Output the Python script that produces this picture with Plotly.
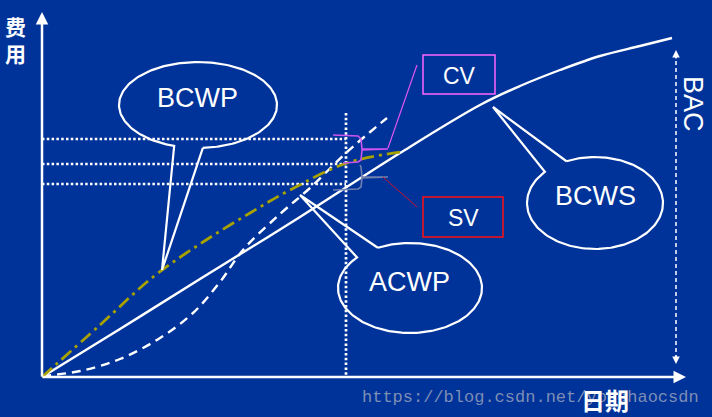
import numpy as np
import plotly.graph_objects as go

# ---------------- data (diagram coordinates, pixel space, y downward) ----------------
bcws_x = [42, 120, 200, 300, 400, 480, 520, 560, 600, 640, 672]
bcws_y = [377, 329, 279, 217, 153, 105, 86, 70, 56, 46, 38]

acwp_x = [42, 80, 120, 160, 193, 220, 243, 280, 310, 347, 387]
acwp_y = [376, 371, 359, 338, 313, 282, 250, 214, 188, 152, 118]

bcwp_x = [42, 100, 153, 203, 250, 290, 347, 400]
bcwp_y = [377, 325, 277, 242, 213, 190, 163, 152]

level_y = [139, 164, 184]          # dotted guide levels
status_x = 346                      # status date
status_top = 113

bac_x = 676
bac_top, bac_bottom = 50, 364

labels = {"BCWP": (197, 98), "ACWP": (409, 282), "BCWS": (595, 196)}
bubbles = {
    "BCWP": dict(c=(198, 105), r=(79, 43), b1=(173, 148), tip=(162, 270), b2=(203, 149)),
    "ACWP": dict(c=(410, 288), r=(72, 45), b1=(358, 258), tip=(300, 195), b2=(378, 248)),
    "BCWS": dict(c=(595, 203), r=(68, 46), b1=(545, 172), tip=(493, 107), b2=(567, 162)),
}

cv_brace_x = [333, 358, 361, 362, 388, 362, 361, 358, 343]
cv_brace_y = [135, 136, 139, 149, 149, 150, 160, 162, 163]
sv_brace_x = [360, 361, 362, 388, 362, 361, 358, 333]
sv_brace_y = [165, 167, 177, 177, 178, 187, 189, 190]

cv_link_x = [388, 417]
cv_link_y = [148, 65]
sv_link_x = [383, 417]
sv_link_y = [177, 207]

cv_box = (423, 55, 495, 94)
sv_box = (423, 197, 503, 237)

BG = "#003399"
W, H = 712, 417

fig = go.Figure()


def line(x, y, color="white", width=2, dash=None, shape="linear"):
    fig.add_trace(go.Scatter(x=x, y=y, mode="lines", hoverinfo="skip",
                             line=dict(color=color, width=width, dash=dash, shape=shape)))


# dotted guides
for ly in level_y:
    line([42, status_x], [ly, ly], width=2.7, dash="2.5px,2.3px")
line([status_x, status_x], [status_top, 377], width=2.7, dash="2.5px,2.3px")

# curves
line(bcws_x, bcws_y, width=2.4, shape="spline")
line(acwp_x, acwp_y, width=2.4, dash="9px,6px", shape="spline")
line(bcwp_x, bcwp_y, color="#a8a200", width=2.8, dash="13px,5px,3px,5px", shape="spline")

# braces and links
line(cv_brace_x, cv_brace_y, color="#cc55ee", width=1.6)
line(sv_brace_x, sv_brace_y, color="#7080b0", width=1.6)
line(cv_link_x, cv_link_y, color="#dd55ee", width=1.2)
line(sv_link_x, sv_link_y, color="#cc1030", width=1)

# bubbles
for name, b in bubbles.items():
    cx, cy = b["c"]
    rx, ry = b["r"]

    def ang(p):
        return np.arctan2((p[1] - cy) / ry, (p[0] - cx) / rx)

    t1, t2 = ang(b["b1"]), ang(b["b2"])
    d = (t1 - t2) % (2 * np.pi)
    if d > np.pi:
        ts = t2 + np.linspace(0, d, 200)
    else:
        ts = t2 - np.linspace(0, 2 * np.pi - d, 200)
    ex = list(cx + rx * np.cos(ts))
    ey = list(cy + ry * np.sin(ts))
    px = ex + [b["tip"][0], ex[0]]
    py = ey + [b["tip"][1], ey[0]]
    line(px, py, width=2.2)

# BAC dashed
line([bac_x, bac_x], [bac_top + 4, bac_bottom - 4], width=1.5, dash="4px,3px")

# boxes
fig.add_shape(type="rect", x0=cv_box[0], y0=cv_box[1], x1=cv_box[2], y1=cv_box[3],
              line=dict(color="#ff66ff", width=1.5))
fig.add_shape(type="rect", x0=sv_box[0], y0=sv_box[1], x1=sv_box[2], y1=sv_box[3],
              line=dict(color="#ff1010", width=1.5))

# axes with arrows
def arrow(x0, y0, x1, y1, width=2, head=2, size=1.0):
    fig.add_annotation(x=x1, y=y1, ax=x0, ay=y0, xref="x", yref="y", axref="x", ayref="y",
                       text="", showarrow=True, arrowhead=head, arrowsize=size,
                       arrowwidth=width, arrowcolor="white")

arrow(42, 378, 42, 12, width=2.5)
arrow(41, 377, 686, 377, width=2.5)
arrow(bac_x, bac_top + 10, bac_x, bac_top, width=1.5, head=2, size=1)
arrow(bac_x, bac_bottom - 10, bac_x, bac_bottom, width=1.5, head=2, size=1)

TXT = "Liberation Sans, Arial"


def text(s, x, y, size, color="white", family=TXT, angle=0):
    fig.add_annotation(x=x, y=y, xref="x", yref="y", text=s, showarrow=False,
                       textangle=angle, font=dict(family=family, size=size, color=color),
                       xanchor="center", yanchor="middle")


# watermark
text("https://blog.csdn.net/yonghaocsdn", 530, 397, 17, color="rgba(150,160,185,0.85)",
     family="Liberation Mono, DejaVu Sans Mono, monospace")

for name, (x, y) in labels.items():
    text(name, x, y, 27)
text("CV", 459, 76, 23)
text("SV", 463, 218, 23)
text("BAC", 693, 104, 27, angle=90)

CJK = "Noto Sans CJK SC"
text("<b>费<br>用</b>", 15, 39, 21, family=CJK)
text("<b>日期</b>", 605, 399, 24, family=CJK)

fig.update_layout(
    width=W, height=H, margin=dict(l=0, r=0, t=0, b=0),
    paper_bgcolor=BG, plot_bgcolor=BG, showlegend=False,
    xaxis=dict(range=[0, W], visible=False, fixedrange=True),
    yaxis=dict(range=[H, 0], visible=False, fixedrange=True),
)

fig.write_html("out.html", config={"displayModeBar": False},
               post_script="document.body.style.margin='0';document.body.style.overflow='hidden';")
